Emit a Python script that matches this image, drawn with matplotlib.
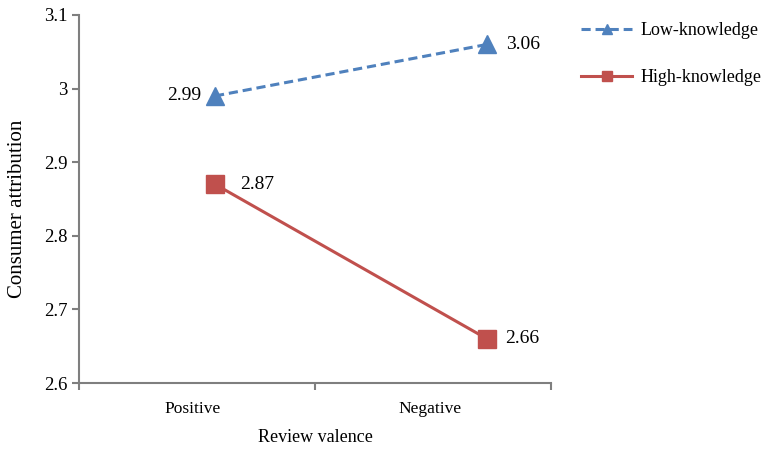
import matplotlib.pyplot as plt
import numpy as np

plt.rcParams['font.family'] = ['Liberation Serif', 'DejaVu Serif']

categories = ['Positive', 'Negative']
low_knowledge = [2.99, 3.06]
high_knowledge = [2.87, 2.66]
y_ticks = [2.6, 2.7, 2.8, 2.9, 3.0, 3.1]
y_tick_labels = ['2.6', '2.7', '2.8', '2.9', '3', '3.1']

blue = '#4F81BD'
red = '#C0504D'

fig = plt.figure(figsize=(7.68, 4.53), dpi=100)
ax = fig.add_axes([0.1029, 0.1545, 0.6145, 0.8124])

x = np.arange(len(categories))
ax.plot(x, low_knowledge, '--', color=blue, lw=2.2, marker='^', ms=13,
        dashes=(3, 1.6), label='Low-knowledge')
ax.plot(x, high_knowledge, '-', color=red, lw=2.2, marker='s', ms=13,
        label='High-knowledge')

# value labels
ax.annotate(f'{low_knowledge[0]:.2f}', (x[0], low_knowledge[0]), xytext=(-10, 0),
            textcoords='offset points', ha='right', va='center', fontsize=14)
ax.annotate(f'{low_knowledge[1]:.2f}', (x[1], low_knowledge[1]), xytext=(14, 0),
            textcoords='offset points', ha='left', va='center', fontsize=14)
ax.annotate(f'{high_knowledge[0]:.2f}', (x[0], high_knowledge[0]), xytext=(18, 0),
            textcoords='offset points', ha='left', va='center', fontsize=14)
ax.annotate(f'{high_knowledge[1]:.2f}', (x[1], high_knowledge[1]), xytext=(13, 0),
            textcoords='offset points', ha='left', va='center', fontsize=14)

ax.set_ylim(2.6, 3.1)
ax.set_yticks(y_ticks)
ax.set_yticklabels(y_tick_labels, fontsize=13.5)
ax.set_xlim(-0.5, 1.235)
ax.set_xticks([-0.5, 0.368, 1.235])
ax.set_xticklabels([])
for lx, name in zip([-0.081, 0.79], categories):
    ax.text(lx, -0.07, name, transform=ax.get_xaxis_transform(), ha='center',
            va='center', fontsize=12.5)

for s in ['top', 'right']:
    ax.spines[s].set_visible(False)
for s in ['left', 'bottom']:
    ax.spines[s].set_color('#7f7f7f')
    ax.spines[s].set_linewidth(1.5)
ax.tick_params(axis='both', direction='out', length=5, width=1.5, color='#7f7f7f')

fig.text(18 / 768, 1 - 209 / 453, 'Consumer attribution', rotation=90,
         ha='center', va='center', fontsize=15)
fig.text(315 / 768, 1 - 438 / 453, 'Review valence', ha='center', va='center', fontsize=13)

fig.legend(loc='upper left', bbox_to_anchor=(0.757, 0.951), frameon=False,
           fontsize=13, markerscale=0.6, handlelength=2.8, handletextpad=0.5,
           labelspacing=1.65, borderpad=0, borderaxespad=0)

fig.savefig('out.png', dpi=100)
